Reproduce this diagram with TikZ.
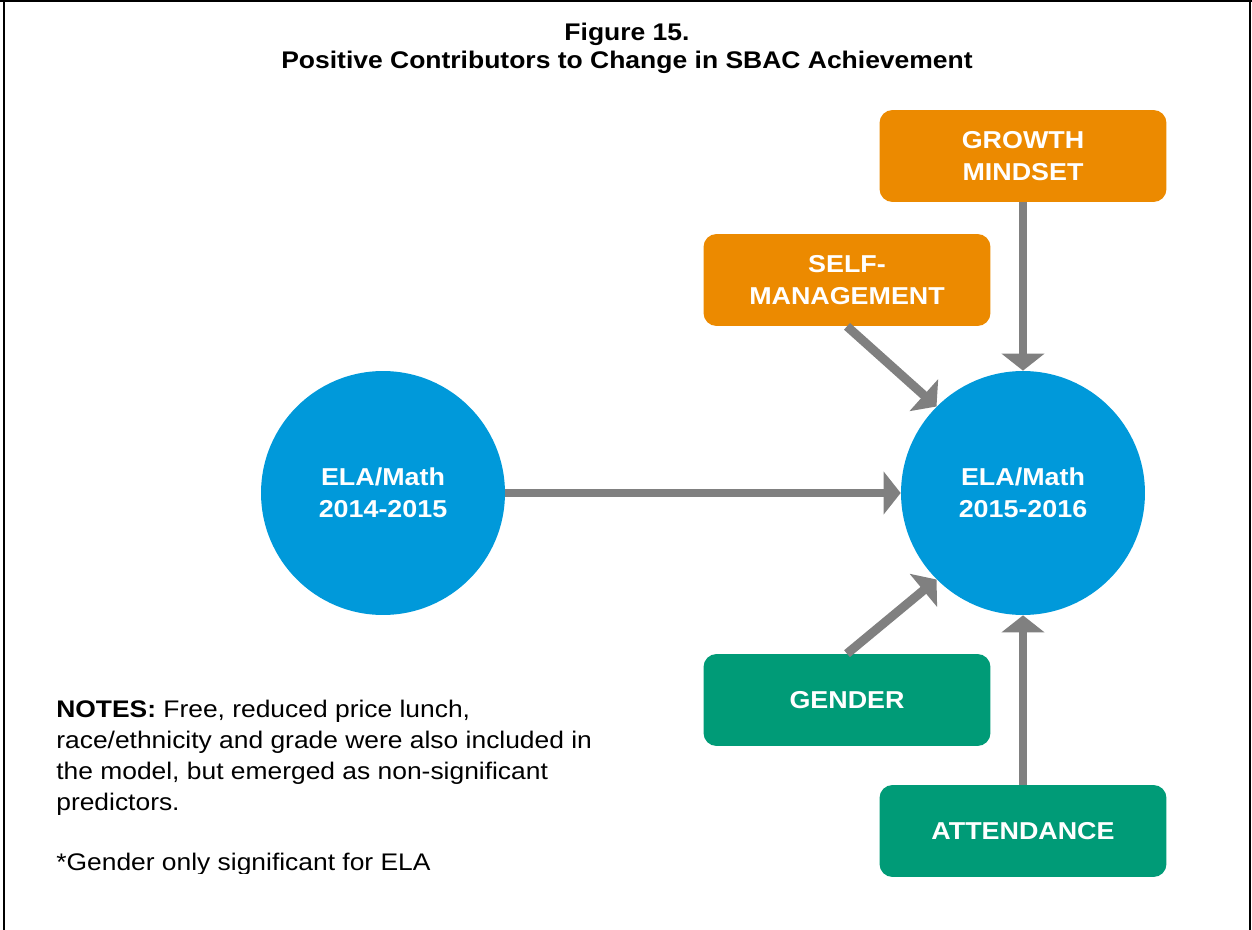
\documentclass[tikz,border=0pt]{standalone}
\usepackage{fontspec}
\setmainfont{Liberation Sans}[FakeStretch=1.1]
\usetikzlibrary{arrows.meta}
\definecolor{sbacblue}{HTML}{0099DA}
\definecolor{sbacorange}{HTML}{EC8A00}
\definecolor{sbacgreen}{HTML}{009B77}
\definecolor{arrowgray}{HTML}{808080}
\begin{document}
\begin{tikzpicture}[x=0.02cm, y=-0.02cm, >={Triangle[width=24pt,length=9.7pt]}]
   \useasboundingbox (0,0) rectangle (1252,930);
   % frame
   \draw[line width=1.2pt] (0,1) -- (1252,1);
   \draw[line width=1.2pt] (4,0) -- (4,930);
   \draw[line width=1.2pt] (1250,0) -- (1250,930);

   \node[font=\bfseries\fontsize{13.7}{15.9}\selectfont, align=center, inner sep=0pt] (title) at (627,48)
      {Figure 15.\\Positive Contributors to Change in SBAC Achievement};

   \begin{scope}[every node/.style={font=\bfseries\fontsize{13.9}{18.2}\selectfont, text=white, align=center}]
    \node[circle, fill=sbacblue, minimum size=4.88cm] (prev) at (383,493) {ELA/Math\\2014-2015};
    \node[circle, fill=sbacblue, minimum size=4.88cm] (curr) at (1023,493) {ELA/Math\\2015-2016};
    \node[rounded corners=7.4pt, fill=sbacorange, minimum width=5.74cm, minimum height=1.84cm] (growth) at (1023,156) {GROWTH\\MINDSET};
    \node[rounded corners=7.4pt, fill=sbacorange, minimum width=5.74cm, minimum height=1.84cm] (selfman) at (847,280) {SELF-\\MANAGEMENT};
    \node[rounded corners=7.4pt, fill=sbacgreen, minimum width=5.74cm, minimum height=1.84cm] (gender) at (847,700) {GENDER};
    \node[rounded corners=7.4pt, fill=sbacgreen, minimum width=5.74cm, minimum height=1.84cm] (attend) at (1023,831) {ATTENDANCE};
   \end{scope}

   \begin{scope}[every edge/.style={draw=arrowgray, line width=5.1pt, ->}]
    \draw (prev) edge (curr);
    \draw (growth) edge (curr);
    \draw (attend) edge (curr);
    \draw (selfman.south) edge (curr.135);
    \draw (gender.north) edge (curr.-135);
   \end{scope}

   \begin{scope}
    \clip (0,0) rectangle (1252,873);
    \node[font=\fontsize{13.66}{17.64}\selectfont, align=left, anchor=north west, inner sep=0pt] (notes) at (56,699.5)
      {\textbf{NOTES:} Free, reduced price lunch,\\race/ethnicity and grade were also included in\\the model, but emerged as non-significant\\predictors.\\[16.5pt]*Gender only significant for ELA};
   \end{scope}
\end{tikzpicture}
\end{document}
